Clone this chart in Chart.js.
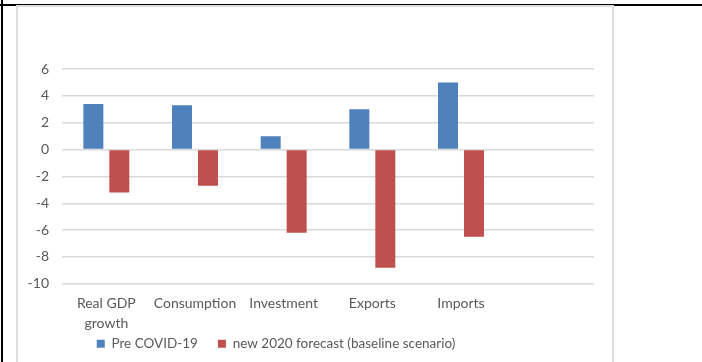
<!DOCTYPE html>
<html>
<head>
<meta charset="utf-8">
<script src="https://cdn.jsdelivr.net/npm/chart.js@4/dist/chart.umd.min.js"></script>
<style>
  html, body { margin: 0; padding: 0; background: #ffffff; }
  body { width: 702px; height: 362px; position: relative; overflow: hidden; }
  #blackTop { position: absolute; left: 0; top: 4px; width: 702px; height: 2px; background: #000; }
  #blackLeft { position: absolute; left: 1px; top: 0; width: 2px; height: 362px; background: #000; }
  #frame {
    position: absolute; left: 16px; top: 5px; width: 594px; height: 360px;
    background: #fff; border: 2px solid #dedede;
  }
  #chartBox { position: absolute; left: 0; top: 0; width: 594px; height: 357px; }
</style>
</head>
<body>
<div id="blackTop"></div>
<div id="blackLeft"></div>
<div id="frame">
  <div id="chartBox"><canvas id="gdpChart"></canvas></div>
</div>
<script>
// Dados do gráfico
const categorias = [['Real GDP', 'growth'], 'Consumption', 'Investment', 'Exports', 'Imports', ''];
const preCovid = [3.4, 3.3, 1.0, 3.0, 5.0, null];
const forecast2020 = [-3.2, -2.7, -6.2, -8.8, -6.5, null];
const nomesSeries = ['Pre COVID-19', 'new 2020 forecast (baseline scenario)'];

const CORES = {
    azul: '#4f81bd',
    vermelho: '#c0504d',
    texto: '#595959',
    grade: '#d9d9d9'
};

Chart.defaults.font.family = 'Lato, "Open Sans", sans-serif';
Chart.defaults.font.size = 14;
Chart.defaults.color = CORES.texto;

// posiciona a legenda como no Excel (mais à esquerda e mais acima)
const legendaDeslocada = {
    id: 'legendaDeslocada',
    afterLayout(chart) {
        const lg = chart.legend;
        lg.left -= 30;
        lg.right -= 30;
        lg.top -= 26;
    }
};

const ctx = document.getElementById('gdpChart').getContext('2d');
new Chart(ctx, {
    type: 'bar',
    data: {
        labels: categorias,
        datasets: [{
            label: nomesSeries[0],
            data: preCovid,
            backgroundColor: CORES.azul
        }, {
            label: nomesSeries[1],
            data: forecast2020,
            backgroundColor: CORES.vermelho
        }]
    },
    options: {
        responsive: true,
        maintainAspectRatio: false,
        animation: false,
        layout: { padding: { top: 62, right: 18, bottom: 2, left: 0 } },
        categoryPercentage: 0.586,
        barPercentage: 0.77,
        scales: {
            x: {
                grid: { display: false, drawTicks: false },
                border: { display: false },
                ticks: {
                    padding: 10,
                    maxRotation: 0,
                    autoSkip: false,
                    font: { lineHeight: 1.4 }
                }
            },
            y: {
                min: -10,
                max: 6,
                afterFit(scale) { scale.width = 44; },
                grid: { color: CORES.grade, lineWidth: 1.5, drawTicks: false },
                border: { display: false },
                ticks: { stepSize: 2, padding: 13 }
            }
        },
        plugins: {
            legend: {
                position: 'bottom',
                maxHeight: 19,
                labels: {
                    boxWidth: 8,
                    boxHeight: 8,
                    padding: 20,
                    color: CORES.texto,
                    font: { size: 13.5 }
                }
            },
            tooltip: { enabled: false }
        }
    },
    plugins: [legendaDeslocada]
});
</script>
</body>
</html>
